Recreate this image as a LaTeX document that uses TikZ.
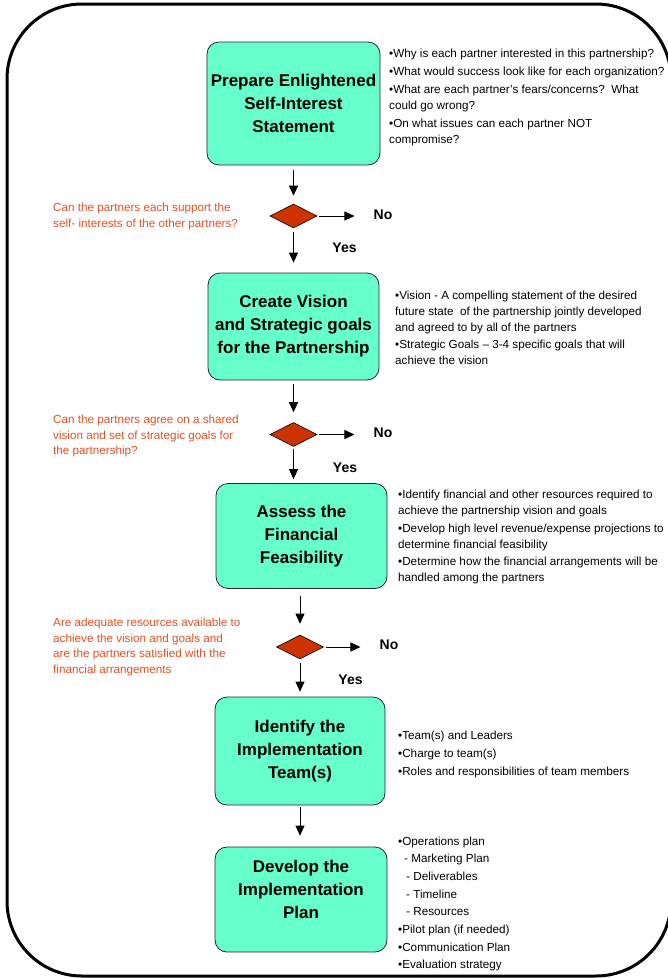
\documentclass[tikz,border=0pt]{standalone}
\usepackage{fontspec}
\setmainfont{Liberation Sans}
\usetikzlibrary{shapes.geometric,arrows.meta}
\definecolor{boxfill}{RGB}{102,255,204}
\definecolor{diafill}{RGB}{204,51,0}
\definecolor{qtext}{RGB}{225,80,35}
\begin{document}
\begin{tikzpicture}[x=1pt,y=-1pt,
  box/.style={draw=black!85, line width=0.8pt, fill=boxfill, rounded corners=12pt,
    inner sep=0pt, align=center, font=\fontsize{17}{23}\selectfont\bfseries},
  ttl/.style={inner sep=0pt, align=center, font=\fontsize{17}{23}\selectfont\bfseries},
  bul/.style={anchor=west, align=left, inner sep=0pt, font=\fontsize{11.7}{16}\selectfont},
  qst/.style={anchor=west, align=left, inner sep=0pt, text=qtext, font=\fontsize{11.7}{15.5}\selectfont},
  dia/.style={diamond, draw=black, line width=0.6pt, fill=diafill, inner sep=0pt,
    minimum width=47pt, minimum height=24pt, aspect=2},
  yn/.style={inner sep=0pt, font=\fontsize{14}{16}\selectfont\bfseries},
  arr/.style={-{Triangle[width=9pt,length=10pt]}, line width=0.8pt}]
\useasboundingbox (0,0) rectangle (668,978);
\draw[line width=3pt, rounded corners=75pt] (7,4) rectangle (671,976);

% boxes
\node[box, minimum width=173pt, minimum height=123pt] (b1) at (293.5,103.5) {Prepare Enlightened\\Self-Interest\\Statement};
\node[box, minimum width=171pt, minimum height=107pt] (b2) at (293.5,326.5) {Create Vision\\and Strategic goals\\for the Partnership};
\node[box, minimum width=171pt, minimum height=105pt] (b3) at (301.5,536) {Assess the\\Financial\\Feasibility};
\node[box, minimum width=170pt, minimum height=108pt] (b4) at (300,751) {Identify the\\Implementation\\Team(s)};
\node[box, minimum width=172pt, minimum height=105pt] (b5) at (301,899.5) {};
\node[ttl] (t5) at (301,889) {Develop the\\Implementation\\Plan};

% bullet notes
\node[bul] (n1) at (389,97.5) {•Why is each partner interested in this partnership?\\[2pt]•What would success look like for each organization?\\[2pt]•What are each partner’s fears/concerns?\ \ What\\could go wrong?\\[2pt]•On what issues can each partner NOT\\compromise?};
\node[bul] (n2) at (395,328) {•Vision - A compelling statement of the desired\\future state\ \ of the partnership jointly developed\\and agreed to by all of the partners\\[1.5pt]•Strategic Goals – 3-4 specific goals that will\\achieve the vision};
\node[bul] (n3) at (398,537) {•Identify financial and other resources required to\\achieve the partnership vision and goals\\[1.5pt]•Develop high level revenue/expense projections to\\determine financial feasibility\\[1.5pt]•Determine how the financial arrangements will be\\handled among the partners};
\node[bul] (n4) at (398,754) {•Team(s) and Leaders\\[2pt]•Charge to team(s)\\[2pt]•Roles and responsibilities of team members};
\node[bul, font=\fontsize{11.7}{17.7}\selectfont] (n5) at (398,904) {•Operations plan\\\hspace*{6pt}- Marketing Plan\\\hspace*{8pt}- Deliverables\\\hspace*{8pt}- Timeline\\\hspace*{8pt}- Resources\\•Pilot plan (if needed)\\•Communication Plan\\•Evaluation strategy};

% questions
\node[qst] (q1) at (53,216.5) {Can the partners each support the\\self- interests of the other partners?};
\node[qst] (q2) at (53,436) {Can the partners agree on a shared\\vision and set of strategic goals for\\the partnership?};
\node[qst] (q3) at (53,647) {Are adequate resources available to\\achieve the vision and goals and\\are the partners satisfied with the\\financial arrangements};

% decisions
\node[dia] (d1) at (293.5,216) {};
\node[dia] (d2) at (293.5,434.5) {};
\node[dia] (d3) at (300,647) {};

\node[yn] (no1) at (383,215) {No};
\node[yn] (no2) at (383,433) {No};
\node[yn] (no3) at (389,645) {No};
\node[yn] (y1) at (344.5,248) {Yes};
\node[yn] (y2) at (345,468) {Yes};
\node[yn] (y3) at (350.5,680) {Yes};

% connectors
\draw[arr, shorten <=5pt, shorten >=8pt] (b1.south) -- (d1.north);
\draw[arr, shorten <=4pt, shorten >=10pt] (d1.south) -- (b2.north);
\draw[arr, shorten <=4pt, shorten >=10pt] (b2.south) -- (d2.north);
\draw[arr, shorten <=2pt, shorten >=4pt] (d2.south) -- (d2.south |- b3.north);
\draw[arr, shorten <=7pt, shorten >=11pt] (b3.south -| d3.north) -- (d3.north);
\draw[arr, shorten <=4pt, shorten >=5pt] (d3.south) -- (d3.south |- b4.north);
\draw[arr, shorten <=2pt, shorten >=11pt] (b4.south) -- (b4.south |- b5.north);
\draw[arr, shorten <=2pt, shorten >=19pt] (d1.east) -- (d1.east -| no1.west);
\draw[arr, shorten <=2pt, shorten >=19pt] (d2.east) -- (d2.east -| no2.west);
\draw[arr, shorten <=2pt, shorten >=19pt] (d3.east) -- (d3.east -| no3.west);
\end{tikzpicture}
\end{document}
